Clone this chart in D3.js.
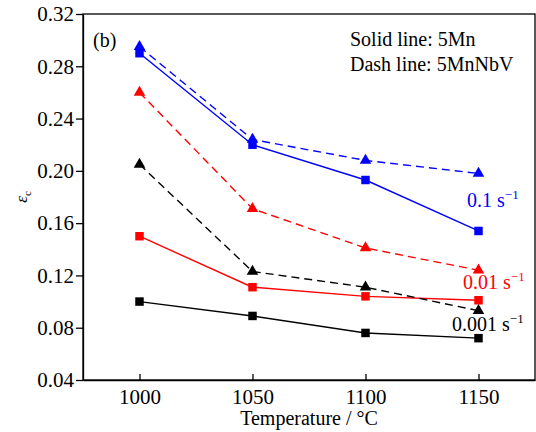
<!DOCTYPE html>
<html>
<head>
<meta charset="utf-8">
<script src="https://cdn.jsdelivr.net/npm/d3@7"></script>
<style>
  html, body { margin: 0; padding: 0; background: #fff; }
  text { font-family: "Liberation Serif", "Times New Roman", serif; }
</style>
</head>
<body>
<svg id="chart" width="536" height="432"></svg>
<script>
// Deformation temperatures (°C)
const temperatures = [1000, 1050, 1100, 1150];

// Critical strain εc, 5Mn steel (solid lines)
const mn_01 = [0.290, 0.220, 0.193, 0.154];
const mn_001 = [0.150, 0.111, 0.104, 0.101];
const mn_0001 = [0.100, 0.089, 0.076, 0.072];

// Critical strain εc, 5MnNbV steel (dashed lines)
const nbv_01 = [0.295, 0.224, 0.208, 0.198];
const nbv_001 = [0.260, 0.171, 0.141, 0.124];
const nbv_0001 = [0.205, 0.123, 0.111, 0.093];

// Axis ticks
const xTicks = [1000, 1050, 1100, 1150];
const yTicks = [0.04, 0.08, 0.12, 0.16, 0.20, 0.24, 0.28, 0.32];

// Strain-rate labels
const rateLabels = ["0.1", "0.01", "0.001"];

const series = [
  { values: mn_0001, color: "#000000", dashed: false, marker: "square" },
  { values: mn_001, color: "#ff0000", dashed: false, marker: "square" },
  { values: mn_01, color: "#0000ff", dashed: false, marker: "square" },
  { values: nbv_0001, color: "#000000", dashed: true, marker: "triangle" },
  { values: nbv_001, color: "#ff0000", dashed: true, marker: "triangle" },
  { values: nbv_01, color: "#0000ff", dashed: true, marker: "triangle" }
];

const svg = d3.select("#chart");
const plotL = 83, plotR = 535, plotT = 14, plotB = 380;

const x = d3.scaleLinear().domain([975, 1175]).range([plotL, plotR]);
const y = d3.scaleLinear().domain([0.04, 0.32]).range([plotB, plotT]);

// Frame
svg.append("rect")
  .attr("x", plotL).attr("y", plotT)
  .attr("width", plotR - plotL).attr("height", plotB - plotT)
  .attr("fill", "none").attr("stroke", "#000").attr("stroke-width", 1.3);

// Y axis (ticks outward)
const yAxis = svg.append("g")
  .attr("transform", `translate(${plotL},0)`)
  .call(d3.axisLeft(y).tickValues(yTicks).tickFormat(d3.format(".2f"))
    .tickSizeInner(7).tickSizeOuter(0).tickPadding(2));
yAxis.select(".domain").attr("stroke-width", 1.3);
yAxis.selectAll(".tick line").attr("stroke-width", 1.3);
yAxis.selectAll("text").attr("font-size", 21).attr("fill", "#000")
  .style("font-family", "'Liberation Serif', serif");

// X axis (ticks inward)
const xAxis = svg.append("g")
  .attr("transform", `translate(0,${plotB})`)
  .call(d3.axisBottom(x).tickValues(xTicks).tickFormat(d3.format("d"))
    .tickSizeInner(-6).tickSizeOuter(0).tickPadding(9));
xAxis.select(".domain").attr("stroke-width", 1.3);
xAxis.selectAll(".tick line").attr("stroke-width", 1.3);
xAxis.selectAll("text").attr("font-size", 21).attr("fill", "#000")
  .style("font-family", "'Liberation Serif', serif");

// Axis titles
svg.append("text")
  .attr("x", (plotL + plotR) / 2).attr("y", 425)
  .attr("text-anchor", "middle").attr("font-size", 20)
  .text("Temperature / °C");

const yTitle = svg.append("text")
  .attr("transform", `translate(27,${(plotT + plotB) / 2}) rotate(-90)`)
  .attr("text-anchor", "middle").attr("font-size", 17);
yTitle.append("tspan").attr("font-style", "italic").text("ε");
yTitle.append("tspan").attr("font-size", 11).attr("dy", 4).text("c");

// Lines
const line = d3.line()
  .x((d, i) => x(temperatures[i]))
  .y(d => y(d));

series.forEach(s => {
  svg.append("path")
    .datum(s.values)
    .attr("d", line)
    .attr("fill", "none")
    .attr("stroke", s.color)
    .attr("stroke-width", 1.4)
    .attr("stroke-dasharray", s.dashed ? "8,5" : null);
});

// Markers
const squareSym = d3.symbol().type(d3.symbolSquare).size(72);
const triSym = d3.symbol().type(d3.symbolTriangle).size(58);
series.forEach(s => {
  svg.append("g").selectAll("path")
    .data(s.values)
    .join("path")
    .attr("transform", (d, i) => `translate(${x(temperatures[i])},${y(d)})`)
    .attr("d", s.marker === "square" ? squareSym : triSym)
    .attr("fill", s.color);
});

// Strain-rate annotations
const rateAnn = [
  { label: rateLabels[0], color: "#0000ff", x: 467, y: 207 },
  { label: rateLabels[1], color: "#ff0000", x: 463, y: 289 },
  { label: rateLabels[2], color: "#000000", x: 452, y: 331 }
];
rateAnn.forEach(a => {
  const t = svg.append("text")
    .attr("x", a.x).attr("y", a.y)
    .attr("font-size", 20).attr("fill", a.color);
  t.append("tspan").text(a.label + " s");
  t.append("tspan").attr("font-size", 13).attr("dy", -8).text("−1");
});

// Panel tag and legend text
svg.append("text").attr("x", 93).attr("y", 47).attr("font-size", 20).text("(b)");
svg.append("text").attr("x", 350).attr("y", 46).attr("font-size", 20).text("Solid line: 5Mn");
svg.append("text").attr("x", 350).attr("y", 71).attr("font-size", 20).text("Dash line: 5MnNbV");
</script>
</body>
</html>
